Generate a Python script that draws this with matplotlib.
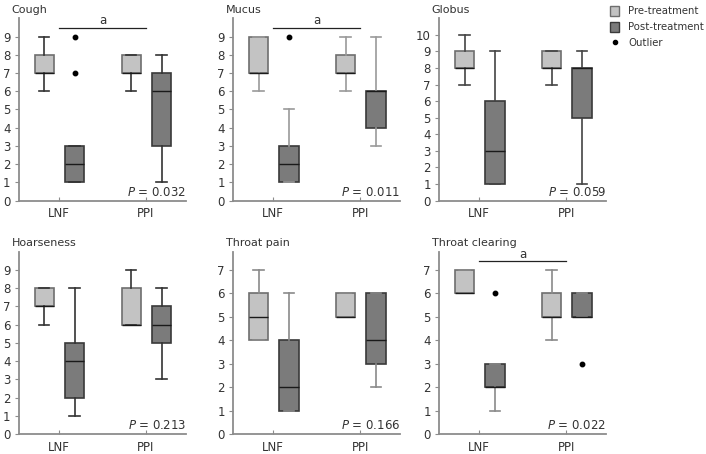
import matplotlib
matplotlib.use("Agg")
import matplotlib.pyplot as plt
from matplotlib.patches import Patch
from matplotlib.lines import Line2D

plt.rcParams['font.family'] = ['DejaVu Sans']

titles = ["Cough", "Mucus", "Globus", "Hoarseness", "Throat pain", "Throat clearing"]
groups = ["LNF", "PPI"]
p_values = ["0.032", "0.011", "0.059", "0.213", "0.166", "0.022"]
sig_marks = ["a", "a", "", "", "", "a"]
y_max = [9, 9, 10, 9, 7, 7]

# [whislo, q1, med, q3, whishi] for LNF pre, LNF post, PPI pre, PPI post
cough = [[6, 7, 7, 8, 9], [1, 1, 2, 3, 3], [6, 7, 7, 8, 8], [1, 3, 6, 7, 8]]
mucus = [[6, 7, 7, 9, 9], [1, 1, 2, 3, 5], [6, 7, 7, 8, 9], [3, 4, 6, 6, 9]]
globus = [[7, 8, 8, 9, 10], [1, 1, 3, 6, 9], [7, 8, 8, 9, 9], [1, 5, 8, 8, 9]]
hoarseness = [[6, 7, 7, 8, 8], [1, 2, 4, 5, 8], [6, 6, 6, 8, 9], [3, 5, 6, 7, 8]]
throat_pain = [[4, 4, 5, 6, 7], [1, 1, 2, 4, 6], [5, 5, 5, 6, 6], [2, 3, 4, 6, 6]]
throat_clearing = [[6, 6, 6, 7, 7], [1, 2, 2, 3, 3], [4, 5, 5, 6, 7], [5, 5, 5, 6, 6]]

cough_out = [[], [7, 9], [], []]
mucus_out = [[], [9], [], []]
globus_out = [[], [], [], []]
hoarseness_out = [[], [], [], []]
throat_pain_out = [[], [], [], []]
throat_clearing_out = [[], [6], [], [3]]

panels = [cough, mucus, globus, hoarseness, throat_pain, throat_clearing]
outliers = [cough_out, mucus_out, globus_out, hoarseness_out, throat_pain_out, throat_clearing_out]

whisker_col = ["#333333", "#9a9a9a", "#444444", "#333333", "#8a8a8a", "#8a8a8a"]
pre_face, pre_edge = "#c3c3c3", "#6e6e6e"
post_face, post_edge = "#7b7b7b", "#3a3a3a"
spine_col = "#8c8c8c"
text_col = "#333333"

fig = plt.figure(figsize=(7.06, 4.54), dpi=100)
W, H = 706, 454
col_left = [19, 233.3, 439.3]
row_top = [18.3, 251.7]
row_bot = [200.5, 434]
ax_w = 167

offsets = [-0.17, 0.18, -0.17, 0.18]
centers = [1, 1, 2, 2]

for i, (title, data, outs) in enumerate(zip(titles, panels, outliers)):
    r, c = divmod(i, 3)
    left = col_left[c] / W
    bottom = 1 - row_bot[r] / H
    height = (row_bot[r] - row_top[r]) / H
    ax = fig.add_axes([left, bottom, ax_w / W, height])
    ym = y_max[i]
    top = {9: 10, 10: 11, 7: 7.78}[ym]
    stats = []
    for d, o in zip(data, outs):
        stats.append(dict(whislo=d[0], q1=d[1], med=d[2], q3=d[3], whishi=d[4], fliers=o))
    pos = [cc + off for cc, off in zip(centers, offsets)]
    for k in range(4):
        pre = k % 2 == 0
        st = stats[k]
        caps = 0.12
        ax.bxp([st], positions=[pos[k]], widths=0.22, capwidths=caps,
               patch_artist=True, manage_ticks=False, zorder=2,
               boxprops=dict(facecolor=pre_face if pre else post_face,
                             edgecolor=pre_edge if pre else post_edge, linewidth=1.2),
               whiskerprops=dict(color=whisker_col[i], linewidth=1.2),
               capprops=dict(color=whisker_col[i], linewidth=1.2),
               medianprops=dict(color="#1a1a1a", linewidth=1.0),
               flierprops=dict(marker='o', markersize=3.2, markerfacecolor='black',
                               markeredgecolor='black'))
    ax.set_xlim(0.54, 2.46)
    ax.set_ylim(0, top)
    ax.set_yticks(range(0, ym + 1))
    ax.set_xticks([1, 2])
    ax.set_xticklabels(groups)
    for s in ['top', 'right']:
        ax.spines[s].set_visible(False)
    for s in ['left', 'bottom']:
        ax.spines[s].set_color(spine_col)
        ax.spines[s].set_linewidth(1.3)
    ax.tick_params(axis='y', direction='out', length=3, color=spine_col,
                   labelsize=8.5, labelcolor=text_col, pad=3)
    ax.tick_params(axis='x', direction='in', length=3, color=spine_col,
                   labelsize=8.5, labelcolor=text_col, pad=5)
    ax.set_facecolor('none')
    ax.text(-0.045, 1.045, title, transform=ax.transAxes, ha='left', va='center',
            fontsize=8, color=text_col)
    ax.text(1.0, 0.045, "$P$ = " + p_values[i], transform=ax.transAxes,
            ha='right', va='center', fontsize=8.5, color=text_col)
    if sig_marks[i]:
        if ym == 9:
            yl, yt = 9.45, 9.88
        else:
            yl, yt = 7.37, 7.66
        ax.plot([1, 2], [yl, yl], color="#222222", linewidth=0.9, clip_on=False)
        ax.text(1.5, yt, sig_marks[i], ha='center', va='center', fontsize=8.5,
                color=text_col, clip_on=False)

handles = [Patch(facecolor=pre_face, edgecolor=pre_edge, linewidth=1.0),
           Patch(facecolor=post_face, edgecolor=post_edge, linewidth=1.0),
           Line2D([], [], linestyle='none', marker='o', markersize=3,
                  markerfacecolor='black', markeredgecolor='black')]
fig.legend(handles, ["Pre-treatment", "Post-treatment", "Outlier"],
           loc='upper left', bbox_to_anchor=(606 / W, 1 - 2 / H), frameon=False,
           fontsize=7.3, handlelength=0.9, handleheight=1.1, handletextpad=0.9,
           labelspacing=0.55, labelcolor=text_col, borderaxespad=0)

fig.savefig("out.png", dpi=100)
